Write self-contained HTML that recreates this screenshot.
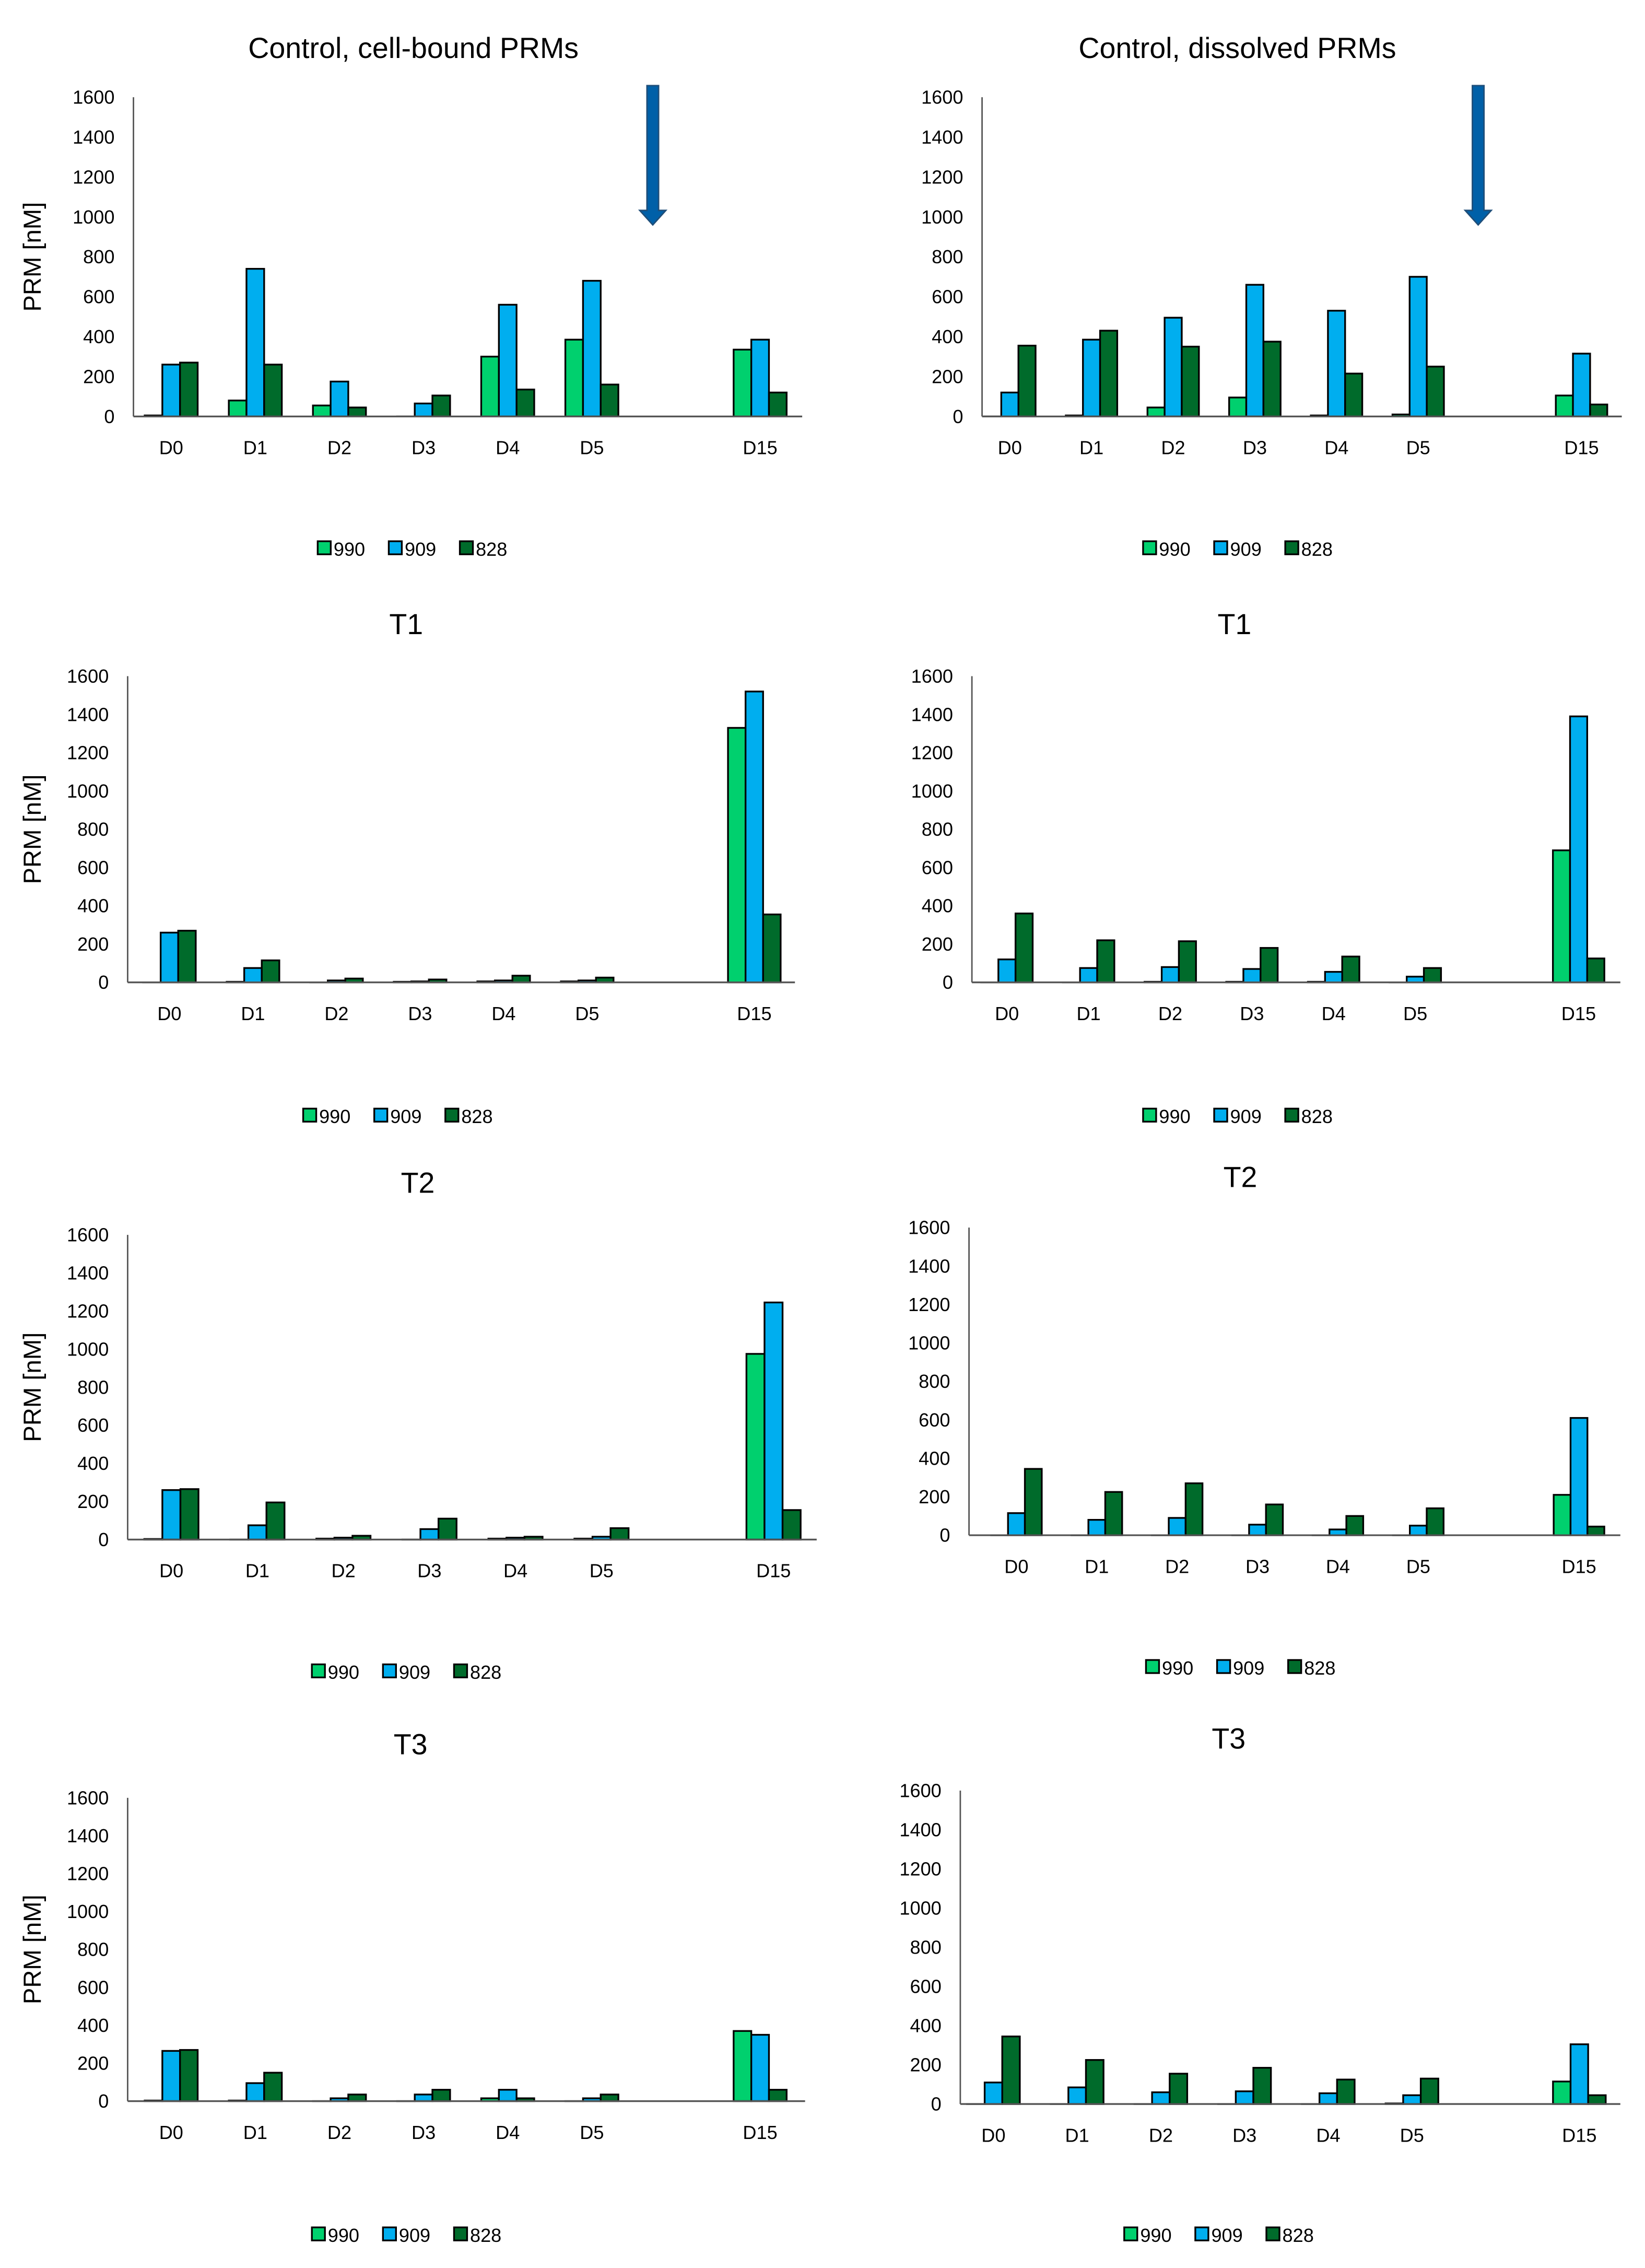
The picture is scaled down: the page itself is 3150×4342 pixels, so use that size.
<!DOCTYPE html>
<html><head><meta charset="utf-8"><style>
html,body{margin:0;padding:0;background:#fff;}
svg{display:block;font-family:"Liberation Sans",sans-serif;}
</style></head><body>
<svg id="fig" width="3150" height="4342" viewBox="0 0 1134 1563" preserveAspectRatio="none" xmlns="http://www.w3.org/2000/svg"></svg>
<script>
const categories = ["D0","D1","D2","D3","D4","D5","D15"];
const slotIndex = [0,1,2,3,4,5,7];
const yTicks = [0,200,400,600,800,1000,1200,1400,1600];
const seriesNames = ["990","909","828"];
const seriesColors = ["#00d06e","#00aeef","#006b2b"];

const ctrlCell990 = [5,80,55,0,300,385,335];
const ctrlCell909 = [260,740,175,65,560,680,385];
const ctrlCell828 = [270,260,45,105,135,160,120];
const ctrlDiss990 = [0,5,45,95,5,10,105];
const ctrlDiss909 = [120,385,495,660,530,700,315];
const ctrlDiss828 = [355,430,350,375,215,250,60];
const t1Cell990 = [0,3,0,3,5,5,1330];
const t1Cell909 = [260,75,10,5,10,10,1520];
const t1Cell828 = [270,115,20,15,35,25,355];
const t1Diss990 = [0,0,3,3,3,0,690];
const t1Diss909 = [120,75,80,70,55,30,1390];
const t1Diss828 = [360,220,215,180,135,75,125];
const t2Cell990 = [3,0,5,0,5,5,975];
const t2Cell909 = [260,75,10,55,10,15,1245];
const t2Cell828 = [265,195,20,110,15,60,155];
const t2Diss990 = [0,0,0,0,0,0,210];
const t2Diss909 = [115,80,90,55,30,50,610];
const t2Diss828 = [345,225,270,160,100,140,45];
const t3Cell990 = [3,3,0,0,15,0,370];
const t3Cell909 = [265,95,15,35,60,15,350];
const t3Cell828 = [270,150,35,60,15,35,60];
const t3Diss990 = [0,0,0,0,0,3,115];
const t3Diss909 = [110,85,60,65,55,45,305];
const t3Diss828 = [345,225,155,185,125,130,45];

const NS = "http://www.w3.org/2000/svg";
const svg = document.getElementById("fig");
function mk(tag, attrs, parent, text){
  const e = document.createElementNS(NS, tag);
  for (const k in attrs) e.setAttribute(k, attrs[k]);
  if (text !== undefined) e.textContent = text;
  parent.appendChild(e);
  return e;
}

const panels = [
  {id:"control-cell-bound", title:"Control, cell-bound PRMs", tx:285, ty:40, ax:92, bx0:89, slot:58, axEnd:553, y0:287, y1:67, ylab:true, leg:[287,378], arrow:450, data:[ctrlCell990,ctrlCell909,ctrlCell828]},
  {id:"control-dissolved", title:"Control, dissolved PRMs", tx:853, ty:40, ax:677, bx0:668, slot:56.3, axEnd:1118, y0:287, y1:67, ylab:false, leg:[856,378], arrow:1019, data:[ctrlDiss990,ctrlDiss909,ctrlDiss828]},
  {id:"t1-cell-bound", title:"T1", tx:280, ty:437, ax:88, bx0:88, slot:57.6, axEnd:548, y0:677, y1:466, ylab:true, leg:[277,769], data:[t1Cell990,t1Cell909,t1Cell828]},
  {id:"t1-dissolved", title:"T1", tx:851, ty:437, ax:670, bx0:666, slot:56.3, axEnd:1117, y0:677, y1:466, ylab:false, leg:[856,769], data:[t1Diss990,t1Diss909,t1Diss828]},
  {id:"t2-cell-bound", title:"T2", tx:288, ty:822, ax:88, bx0:88.5, slot:59.3, axEnd:563, y0:1061, y1:851, ylab:true, leg:[283,1152], data:[t2Cell990,t2Cell909,t2Cell828]},
  {id:"t2-dissolved", title:"T2", tx:855, ty:818, ax:668, bx0:673, slot:55.4, axEnd:1117, y0:1058, y1:846, ylab:false, leg:[858,1149], data:[t2Diss990,t2Diss909,t2Diss828]},
  {id:"t3-cell-bound", title:"T3", tx:283, ty:1209, ax:88, bx0:89, slot:58, axEnd:555, y0:1448, y1:1239, ylab:true, leg:[283,1540], data:[t3Cell990,t3Cell909,t3Cell828]},
  {id:"t3-dissolved", title:"T3", tx:847, ty:1205, ax:662, bx0:656, slot:57.7, axEnd:1117, y0:1450, y1:1234, ylab:false, leg:[843,1540], data:[t3Diss990,t3Diss909,t3Diss828]}
];

panels.forEach(p => {
  const g = mk("g", {}, svg);
  
  
  const yScale = v => p.y0 - (v/1600)*(p.y0 - p.y1);
  const xScale = i => p.bx0 + p.slot*(slotIndex[i] + 0.5);
  const bw = p.slot*0.21;

  const t = mk("text", {x:p.tx, y:p.ty, "text-anchor":"middle", "font-size":20, fill:"#000"}, g, p.title);
  
  

  yTicks.forEach(v => {
    const tl = mk("text", {x:p.ax-13, y:yScale(v)+4.5, "text-anchor":"end", "font-size":13, fill:"#000"}, g, String(v));
    
    
  });
  const ya = mk("line", {x1:p.ax, y1:p.y1, x2:p.ax, y2:p.y0, stroke:"#555", "stroke-width":1}, g);
  
  

  if (p.ylab) {
    const cy = (p.y0 + p.y1)/2;
    const yl = mk("text", {x:28, y:cy, transform:"rotate(-90 28 "+cy+")", "text-anchor":"middle", "font-size":17, fill:"#000"}, g, "PRM [nM]");
    
    
  }

  categories.forEach((c, i) => {
    const cx = xScale(i);
    p.data.forEach((arr, s) => {
      const v = arr[i];
      const y = yScale(v);
      const r = mk("rect", {x:cx - 1.5*bw + s*bw, y:y, width:bw, height:Math.max(p.y0 - y, 0.01), fill:seriesColors[s], stroke:"#000", "stroke-width":1.2}, g);
      
      
    });
    const xl = mk("text", {x:cx, y:p.y0+26, "text-anchor":"middle", "font-size":13, fill:"#000"}, g, c);
    
    
  });
  const xa = mk("line", {x1:p.ax, y1:p.y0, x2:p.axEnd, y2:p.y0, stroke:"#555", "stroke-width":1.2}, g);
  
  

  const lg = mk("g", {}, g);
  
  
  const lx = p.leg[0] - 68, ly = p.leg[1];
  seriesNames.forEach((n, s) => {
    const ex = lx + s*49;
    const e = mk("g", {}, lg);
    
    
    mk("rect", {x:ex, y:ly-5, width:9, height:9, fill:seriesColors[s], stroke:"#000", "stroke-width":1.2}, e);
    mk("text", {x:ex+11, y:ly+5, "font-size":13, fill:"#000"}, e, n);
  });

  if (p.arrow) {
    const ax = p.arrow, top = p.y1 - 8, bot = p.y1 + 88;
    const ar = mk("path", {d:`M${ax-4} ${top} L${ax+4} ${top} L${ax+4} ${bot-10} L${ax+9} ${bot-10} L${ax} ${bot} L${ax-9} ${bot-10} L${ax-4} ${bot-10} Z`, fill:"#0060a8", stroke:"#1f4e79", "stroke-width":1}, g);
    
    
  }
});
</script>
</body></html>
